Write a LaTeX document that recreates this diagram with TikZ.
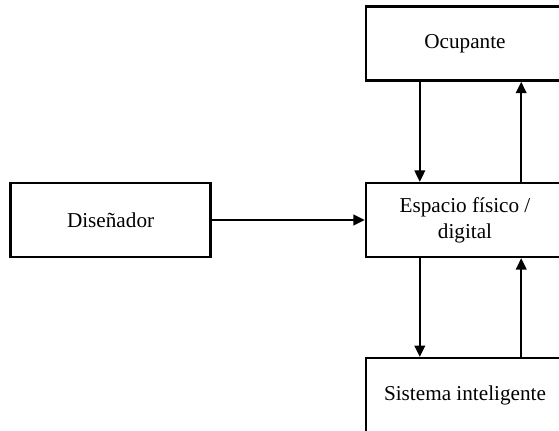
\documentclass[tikz,border=0pt]{standalone}
\usepackage{fontspec}
\setmainfont{Liberation Serif}
\usetikzlibrary{positioning,arrows.meta}

\tikzset{
  box/.style={draw, line width=1.8pt, minimum width=148.5pt, minimum height=55.5pt,
    align=center, font=\fontsize{15.9pt}{19.5pt}\selectfont},
  flow/.style={-{Triangle[length=8.5pt,width=8pt]}, line width=1.2pt}
}

\begin{document}
\begin{tikzpicture}
\useasboundingbox (0,0) rectangle (419.25pt,322.5pt);
\clip (0,0) rectangle (419.25pt,322.5pt);

\node[box] (espacio) at (348.75pt,157.5pt) {Espacio físico /\\digital};
\node[box, above=75pt of espacio] (ocupante) {Ocupante};
\node[box, below=74pt of espacio] (sistema) {Sistema inteligente};
\node[box, minimum width=150pt, left=114.75pt of espacio] (disenador) {Diseñador};

\draw[flow] (disenador) -- (espacio);
\draw[flow] ([xshift=41.25pt]ocupante.south west) -- ([xshift=41.25pt]espacio.north west);
\draw[flow] ([xshift=-33pt]espacio.north east) -- ([xshift=-33pt]ocupante.south east);
\draw[flow] ([xshift=41.25pt]espacio.south west) -- ([xshift=41.25pt]sistema.north west);
\draw[flow] ([xshift=-33pt]sistema.north east) -- ([xshift=-33pt]espacio.south east);
\end{tikzpicture}
\end{document}
